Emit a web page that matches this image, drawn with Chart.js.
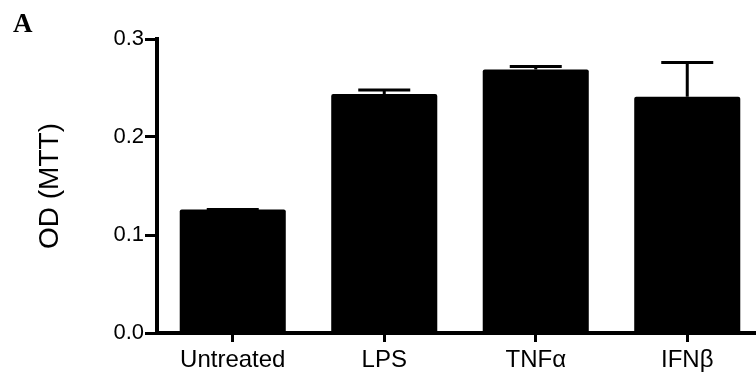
<!DOCTYPE html>
<html>
<head>
<meta charset="utf-8">
<script src="https://cdn.jsdelivr.net/npm/chart.js@4"></script>
<style>
  body { margin: 0; overflow: hidden; background: #fff; }
  #wrap { position: relative; width: 763px; height: 381px; }
  #panel { position: absolute; left: 13px; top: 10px; font: bold 27px "Liberation Serif", "Times New Roman", serif; line-height: 27px; color: #000; }
</style>
</head>
<body>
<div id="wrap">
  <canvas id="odChart" width="763" height="381"></canvas>
  <div id="panel">A</div>
</div>
<script>
// OD (MTT) per treatment
const categories = ['Untreated', 'LPS', 'TNFα', 'IFNβ'];
const odMeans = [0.126, 0.244, 0.269, 0.241];
const odErrors = [0.0, 0.004, 0.003, 0.035];
const yTicks = [0.0, 0.1, 0.2, 0.3];

// draws the upward error bars (line + cap) on top of each bar
const errorBars = {
  id: 'errorBars',
  afterDatasetsDraw(chart) {
    const ctx = chart.ctx;
    const yScale = chart.scales.y;
    const meta = chart.getDatasetMeta(0);
    ctx.save();
    ctx.strokeStyle = '#000';
    ctx.lineWidth = 3;
    meta.data.forEach((bar, i) => {
      const top = yScale.getPixelForValue(odMeans[i] + odErrors[i]);
      ctx.beginPath();
      ctx.moveTo(bar.x, bar.y);
      ctx.lineTo(bar.x, top);
      ctx.moveTo(bar.x - 26, top);
      ctx.lineTo(bar.x + 26, top);
      ctx.stroke();
    });
    ctx.restore();
  }
};

const ctx = document.getElementById('odChart').getContext('2d');
new Chart(ctx, {
  type: 'bar',
  data: {
    labels: categories,
    datasets: [{
      data: odMeans,
      backgroundColor: '#000',
      borderRadius: 2,
      borderSkipped: 'bottom',
      barPercentage: 0.70,
      categoryPercentage: 1.0
    }]
  },
  options: {
    responsive: false,
    animation: false,
    devicePixelRatio: 1,
    layout: { padding: { top: 39, right: 0, bottom: 0, left: 0 } },
    plugins: {
      legend: { display: false },
      tooltip: { enabled: false }
    },
    scales: {
      x: {
        grid: { drawOnChartArea: false, offset: false, tickLength: 9, tickWidth: 3, color: '#000' },
        border: { color: '#000', width: 4 },
        ticks: {
          color: '#000',
          padding: 4,
          maxRotation: 0,
          font: { family: '"Liberation Sans", Arial, sans-serif', size: 24 }
        },
        afterFit(scale) { scale.height = 48; }
      },
      y: {
        min: 0,
        max: 0.3,
        grid: { drawOnChartArea: false, tickLength: 12, tickWidth: 3, color: '#000' },
        border: { color: '#000', width: 4 },
        afterBuildTicks(scale) { scale.ticks = yTicks.map(v => ({ value: v })); },
        ticks: {
          color: '#000',
          padding: 1,
          callback: v => v.toFixed(1),
          font: { family: '"Liberation Sans", Arial, sans-serif', size: 22 }
        },
        title: {
          display: true,
          text: 'OD (MTT)',
          color: '#000',
          padding: { top: 33, bottom: 0 },
          font: { family: '"Liberation Sans", Arial, sans-serif', size: 28, weight: 'normal' }
        },
        afterFit(scale) { scale.width = 157; }
      }
    }
  },
  plugins: [errorBars]
});
</script>
</body>
</html>
